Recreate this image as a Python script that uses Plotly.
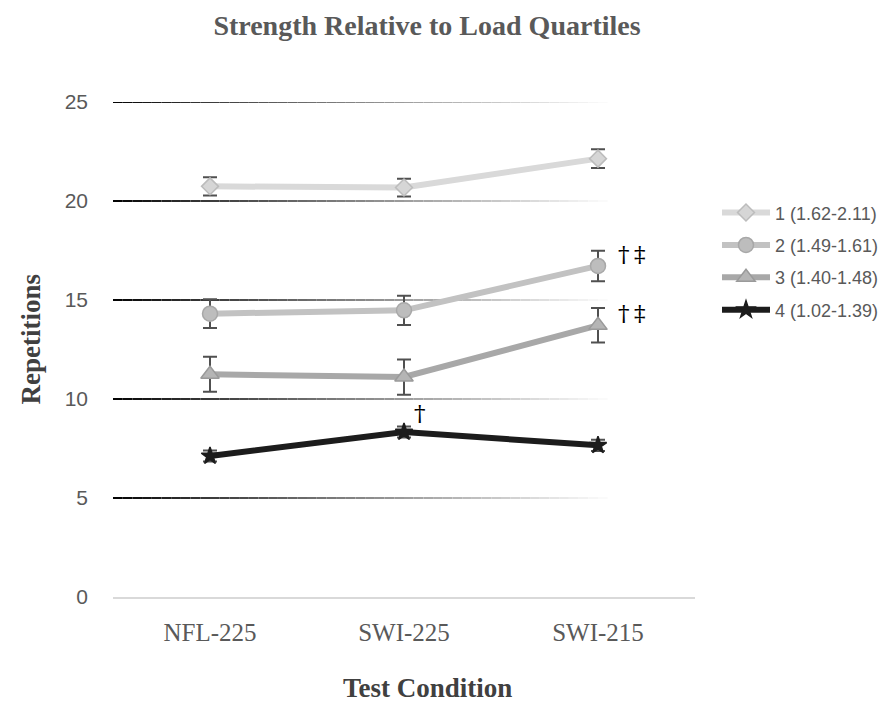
import plotly.graph_objects as go

categories = ["NFL-225", "SWI-225", "SWI-215"]
series_names = ["1 (1.62-2.11)", "2 (1.49-1.61)", "3 (1.40-1.48)", "4 (1.02-1.39)"]
q1_vals = [20.74, 20.68, 22.14]
q1_err = [0.46, 0.45, 0.47]
q2_vals = [14.31, 14.48, 16.72]
q2_err = [0.73, 0.74, 0.77]
q3_vals = [11.25, 11.11, 13.72]
q3_err = [0.88, 0.89, 0.87]
q4_vals = [7.12, 8.33, 7.66]
q4_err = [0.28, 0.28, 0.28]
y_ticks = [0, 5, 10, 15, 20, 25]

styles = [
    dict(line="#d9d9d9", fill="#d6d6d6", edge="#bcbcbc", symbol="diamond", size=13),
    dict(line="#c2c2c2", fill="#bdbdbd", edge="#a8a8a8", symbol="circle", size=15),
    dict(line="#a8a8a8", fill="#b5b5b5", edge="#9a9a9a", symbol="triangle-up", size=16),
    dict(line="#1c1c1c", fill="#1c1c1c", edge="#1c1c1c", symbol="star", size=13),
]
vals = [q1_vals, q2_vals, q3_vals, q4_vals]
errs = [q1_err, q2_err, q3_err, q4_err]

# page offset (browser body margin)
OFF = 8
W, H = 887, 705
plot_l, plot_r, plot_t, plot_b = 113 - OFF, 696 - OFF, 101.7 - OFF, 596.7 - OFF
pw, ph = plot_r - plot_l, plot_b - plot_t

fig = go.Figure()

# gradient gridlines (black fading to white)
n_seg = 60
fade_end = 0.86
for t in y_ticks[1:]:
    for i in range(n_seg):
        x0 = i / n_seg
        x1 = (i + 1) / n_seg
        f = min(1.0, (x0 + x1) / 2 / fade_end)
        c = int(round(255 * f ** 0.9))
        fig.add_shape(type="line", xref="paper", yref="y", x0=x0, x1=x1, y0=t, y1=t,
                      line=dict(color=f"rgb({c},{c},{c})", width=2), layer="below")

for name, v, e, s in zip(series_names, vals, errs, styles):
    fig.add_trace(go.Scatter(
        x=categories, y=v, name=name, mode="lines+markers",
        legendgroup=name,
        line=dict(color=s["line"], width=6),
        marker=dict(symbol=s["symbol"], size=s["size"], color=s["fill"],
                    line=dict(color=s["edge"], width=1.5)),
        error_y=dict(type="data", array=e, visible=True, color="#505050",
                     thickness=2, width=7),
        cliponaxis=False,
    ))

# significance annotations
ann_font = dict(family="DejaVu Serif", size=23, color="#000000")
fig.add_annotation(x=categories[2], y=q2_vals[2], text="†\u2009‡", showarrow=False,
                   xshift=34, yshift=12, font=ann_font)
fig.add_annotation(x=categories[2], y=q3_vals[2], text="†\u2009‡", showarrow=False,
                   xshift=34, yshift=12, font=ann_font)
fig.add_annotation(x=categories[1], y=q4_vals[1], text="†", showarrow=False,
                   xshift=16, yshift=19, font=ann_font)

# axis titles
fig.add_annotation(xref="paper", yref="paper",
                   x=(428 - OFF - plot_l) / pw, y=-(688 - OFF - plot_b) / ph,
                   xanchor="center", yanchor="middle",
                   text="<b>Test Condition</b>", showarrow=False,
                   font=dict(family="Liberation Serif", size=27, color="#404040"))
fig.add_annotation(xref="paper", yref="paper",
                   x=-(plot_l - (31 - OFF)) / pw, y=(plot_b - (339 - OFF)) / ph,
                   xanchor="center", yanchor="middle",
                   text="<b>Repetitions</b>", showarrow=False, textangle=-90,
                   font=dict(family="Liberation Serif", size=27, color="#404040"))

fig.update_layout(
    width=W, height=H,
    paper_bgcolor="white", plot_bgcolor="white",
    margin=dict(l=plot_l, r=W - plot_r, t=plot_t, b=H - plot_b),
    title=dict(text="<b>Strength Relative to Load Quartiles</b>",
               x=(427 - OFF) / W, xanchor="center",
               y=1 - (25 - OFF) / H, yanchor="middle",
               font=dict(family="Liberation Serif", size=28, color="#595959")),
    xaxis=dict(type="category", range=[-0.5, 2.5], showgrid=False, zeroline=False,
               showline=True, linecolor="#d9d9d9", linewidth=1.5, ticks="",
               tickfont=dict(family="Liberation Serif", size=25, color="#595959"),
               ticklabelstandoff=12),
    yaxis=dict(range=[0, 25], tickvals=y_ticks, showgrid=False, zeroline=False,
               showline=False, ticks="",
               tickfont=dict(family="Liberation Sans", size=21, color="#595959"),
               ticklabelstandoff=24),
    legend=dict(x=(717 - OFF - plot_l) / pw, y=1 - (194 - OFF - plot_t) / ph,
                xanchor="left", yanchor="top",
                font=dict(family="Liberation Sans", size=18, color="#595959"),
                itemwidth=48, tracegroupgap=6, bgcolor="rgba(0,0,0,0)"),
    showlegend=True,
)

fig.write_html("out.html")
